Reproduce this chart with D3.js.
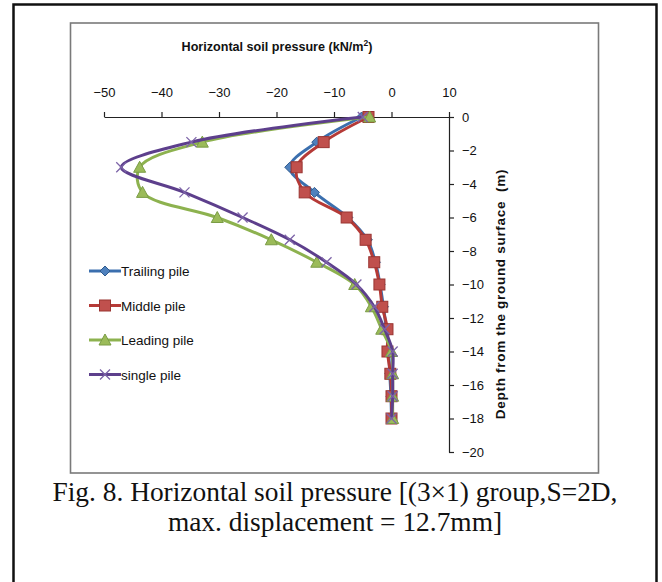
<!DOCTYPE html>
<html>
<head>
<meta charset="utf-8">
<script src="https://cdn.jsdelivr.net/npm/d3@7/dist/d3.min.js"></script>
<style>
  body { margin: 0; background: #fff; }
  svg { display: block; }
</style>
</head>
<body>
<script>
// depths (m) shared by all series
var depths = [0, -1.5, -3, -4.5, -6, -7.33, -8.67, -10, -11.33, -12.67, -14, -15.33, -16.67, -18];

var trailing = [-5.2, -13, -17.7, -13.4, -7.6, -4.2, -2.8, -2.0, -1.4, -0.9, -0.5, -0.3, -0.1, 0];
var middle   = [-4, -11.8, -16.5, -15.1, -7.8, -4.5, -3.0, -2.1, -1.6, -0.7, -0.7, -0.2, 0, 0];
var leading  = [-3.8, -32.9, -43.8, -43.3, -30.3, -20.9, -13, -6.4, -3.5, -1.7, 0, 0.2, 0.2, 0.2];
var single   = [-5, -34.8, -47, -36, -25.9, -17.7, -11.3, -6.1, -3, -1.2, 0.2, 0.2, 0.2, 0];

var seriesNames = ['Trailing pile', 'Middle pile', 'Leading pile', 'single pile'];
var seriesValues = [trailing, middle, leading, single];

var xTicks = [-50, -40, -30, -20, -10, 0, 10];
var yTicks = [0, -2, -4, -6, -8, -10, -12, -14, -16, -18, -20];

var styles = [
    { line: '#3b6fae', fill: '#4f81bd', stroke: '#2f5b8f', marker: 'diamond' },
    { line: '#b53a37', fill: '#c0504d', stroke: '#9a3431', marker: 'square' },
    { line: '#8db24f', fill: '#9bbb59', stroke: '#7a9c45', marker: 'triangle' },
    { line: '#5d3f8c', fill: 'none', stroke: '#7d64a8', marker: 'cross' }
];

const svg = d3.select('body')
    .append('svg')
    .attr('width', 662)
    .attr('height', 582);

const font = '"Liberation Sans", Arial, sans-serif';

// outer frame
svg.append('rect')
    .attr('x', 13.5)
    .attr('y', 4.5)
    .attr('width', 643)
    .attr('height', 600)
    .attr('fill', 'none')
    .attr('stroke', '#111')
    .attr('stroke-width', 2.5);

// chart frame
svg.append('rect')
    .attr('x', 70.5)
    .attr('y', 23)
    .attr('width', 528)
    .attr('height', 450)
    .attr('fill', 'none')
    .attr('stroke', '#7a7a7a')
    .attr('stroke-width', 1.6);

const x = d3.scaleLinear().domain([-50, 10]).range([104, 449]);
const y = d3.scaleLinear().domain([0, -20]).range([117, 452]);

// x axis on top
const xAxis = svg.append('g')
    .attr('transform', `translate(0,${y(0)})`)
    .call(d3.axisTop(x).tickValues(xTicks).tickSize(5).tickSizeOuter(0).tickPadding(15)
        .tickFormat(d3.format('d')));

// y axis on the right
const yAxis = svg.append('g')
    .attr('transform', `translate(${x(10)},0)`)
    .call(d3.axisRight(y).tickValues(yTicks).tickSize(5).tickSizeOuter(0).tickPadding(8)
        .tickFormat(d3.format('d')));

[xAxis, yAxis].forEach(function (g) {
    g.selectAll('path.domain').attr('stroke', '#222').attr('stroke-width', 1.2);
    g.selectAll('line').attr('stroke', '#222').attr('stroke-width', 1.2);
    g.selectAll('text')
        .attr('font-family', font)
        .attr('font-size', 13)
        .attr('fill', '#111');
});

// axis titles
const title = svg.append('text')
    .attr('x', 277)
    .attr('y', 51)
    .attr('text-anchor', 'middle')
    .attr('font-family', font)
    .attr('font-size', 12.6)
    .attr('font-weight', 'bold')
    .attr('fill', '#111');
title.append('tspan').text('Horizontal soil pressure (kN/m');
title.append('tspan').attr('dy', -5).attr('font-size', 8.5).text('2');
title.append('tspan').attr('dy', 5).text(')');

svg.append('text')
    .attr('transform', 'translate(505,294) rotate(-90)')
    .attr('text-anchor', 'middle')
    .attr('font-family', font)
    .attr('font-size', 13.5)
    .attr('font-weight', 'bold')
    .attr('letter-spacing', 0.7)
    .attr('fill', '#111')
    .attr('xml:space', 'preserve')
    .text('Depth from the ground surface  (m)');

// markers
function drawMarker(g, kind, st, cx, cy) {
    if (kind === 'diamond') {
        g.append('path')
            .attr('d', `M${cx},${cy - 5}L${cx + 5},${cy}L${cx},${cy + 5}L${cx - 5},${cy}Z`)
            .attr('fill', st.fill).attr('stroke', st.stroke).attr('stroke-width', 1);
    } else if (kind === 'square') {
        g.append('rect')
            .attr('x', cx - 5.5).attr('y', cy - 5.5)
            .attr('width', 11).attr('height', 11)
            .attr('fill', st.fill).attr('stroke', st.stroke).attr('stroke-width', 1);
    } else if (kind === 'triangle') {
        g.append('path')
            .attr('d', `M${cx},${cy - 6}L${cx + 6},${cy + 5}L${cx - 6},${cy + 5}Z`)
            .attr('fill', st.fill).attr('stroke', st.stroke).attr('stroke-width', 1);
    } else {
        g.append('path')
            .attr('d', `M${cx - 5},${cy - 5}L${cx + 5},${cy + 5}M${cx - 5},${cy + 5}L${cx + 5},${cy - 5}`)
            .attr('fill', 'none').attr('stroke', st.stroke).attr('stroke-width', 1.3);
    }
}

const line = d3.line()
    .x(d => x(d[0]))
    .y(d => y(d[1]))
    .curve(d3.curveCatmullRom.alpha(0.5));

seriesValues.forEach(function (vals, i) {
    const st = styles[i];
    const pts = vals.map((v, j) => [v, depths[j]]);
    const g = svg.append('g').attr('class', 'series');
    g.append('path')
        .attr('d', line(pts))
        .attr('fill', 'none')
        .attr('stroke', st.line)
        .attr('stroke-width', 3)
        .attr('stroke-linejoin', 'round');
    pts.forEach(function (p) {
        drawMarker(g, st.marker, st, x(p[0]), y(p[1]));
    });
});

// legend
const legendTop = 271;
const legendStep = 34.5;
seriesNames.forEach(function (name, i) {
    const st = styles[i];
    const ly = legendTop + i * legendStep;
    const g = svg.append('g');
    g.append('line')
        .attr('x1', 89).attr('x2', 121)
        .attr('y1', ly).attr('y2', ly)
        .attr('stroke', st.line).attr('stroke-width', 3);
    drawMarker(g, st.marker, st, 105, ly);
    g.append('text')
        .attr('x', 121)
        .attr('y', ly + 5)
        .attr('font-family', font)
        .attr('font-size', 13.5)
        .attr('fill', '#111')
        .text(name);
});

// caption
const caption = ['Fig. 8. Horizontal soil pressure [(3\u00d71) group,S=2D,', 'max. displacement = 12.7mm]'];
caption.forEach(function (c, i) {
    svg.append('text')
        .attr('x', 335)
        .attr('y', 501 + i * 30)
        .attr('text-anchor', 'middle')
        .attr('font-family', '"Liberation Serif", "DejaVu Serif", serif')
        .attr('font-size', 27.4)
        .attr('fill', '#111')
        .text(c);
});
</script>
</body>
</html>
